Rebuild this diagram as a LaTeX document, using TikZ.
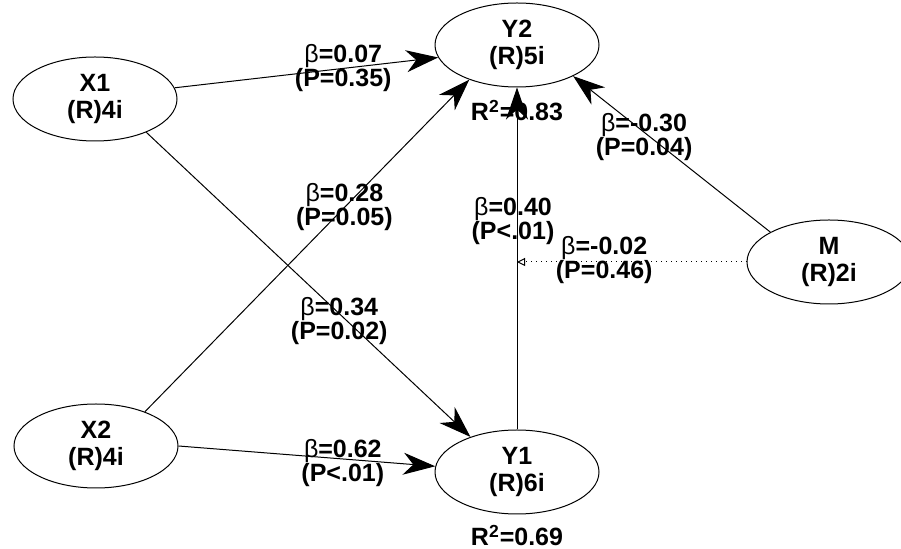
\documentclass[tikz,border=0pt]{standalone}
\usepackage{fontspec}
\setmainfont{Liberation Sans}
\usetikzlibrary{shapes.geometric,arrows.meta}

\begin{document}
\begin{tikzpicture}[x=0.5pt,y=-0.5pt,
  lv/.style={draw,ellipse,line width=0.5pt,inner sep=0pt,minimum width=82pt,minimum height=42pt,align=center,font=\bfseries\fontsize{12.5}{13.5}\selectfont},
  arr/.style={line width=0.5pt,-{Stealth[length=16pt,width=11pt,inset=5pt]}},
  dotarr/.style={line width=0.5pt,dotted,-{Triangle[open,length=4pt,width=4pt]}},
  lbl/.style={align=center,inner sep=0pt,font=\bfseries\fontsize{12.5}{12}\selectfont}]

  \useasboundingbox (0,0) rectangle (901,549);

  \node [lv] (X1) at (95,99) {X1\\(R)4i};
  \node [lv] (Y2) at (517,45) {Y2\\(R)5i};
  \node [lv] (M) at (829,262) {M\\(R)2i};
  \node [lv] (X2) at (96,446) {X2\\(R)4i};
  \node [lv] (Y1) at (517,472) {Y1\\(R)6i};
  \coordinate [] (mod) at (517,262);

  \draw[arr] (X1.8) -- (Y2.189) node[lbl, pos=0.64] {\textmd{β}=0.07\\(P=0.35)};
  \draw[arr] (X1.-33) -- (Y1.143) node[lbl, pos=0.62, xshift=-4pt] {\textmd{β}=0.34\\(P=0.02)};
  \draw[arr] (X2.35) -- (Y2.216) node[lbl, pos=0.615] {\textmd{β}=0.28\\(P=0.05)};
  \draw[arr] (X2.0) -- (Y1.176) node[lbl, pos=0.64, yshift=-2pt] {\textmd{β}=0.62\\(P<.01)};
  \draw[arr] (Y1) -- (Y2) node[lbl, pos=0.61, xshift=-2pt] {\textmd{β}=0.40\\(P<.01)};
  \draw[arr] (M.153) -- (Y2.-29) node[lbl, pos=0.61, xshift=-3pt] {\textmd{β}=-0.30\\(P=0.04)};
  \draw[dotarr] (M.west) -- (mod) node[lbl, pos=0.62, yshift=1pt] {\textmd{β}=-0.02\\(P=0.46)};

  \node [lbl, below=6pt] (R2a) at (Y2.south) {R\textsuperscript{2}=0.83};
  \node [lbl, below=5pt] (R2b) at (Y1.south) {R\textsuperscript{2}=0.69};

\end{tikzpicture}
\end{document}
